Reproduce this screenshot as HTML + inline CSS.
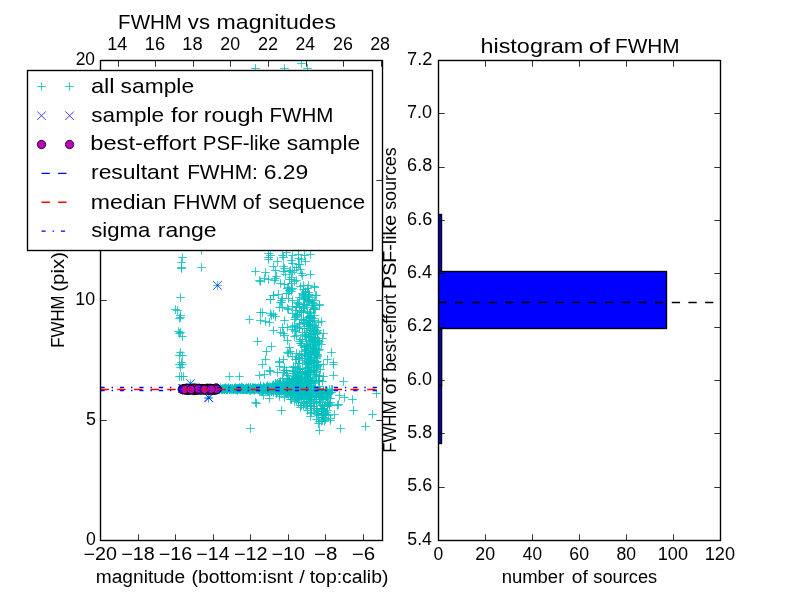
<!DOCTYPE html>
<html><head><meta charset="utf-8"><title>FWHM</title>
<style>html,body{margin:0;padding:0;background:#fff;overflow:hidden}svg{display:block;will-change:transform}text{font-family:"Liberation Sans",sans-serif}</style></head>
<body>
<svg width="800" height="600" viewBox="0 0 800 600">
<rect x="0" y="0" width="800" height="600" fill="#fff"/>
<defs><clipPath id="cl"><rect x="100.00" y="60.00" width="281.82" height="480.00"/></clipPath>
<clipPath id="cr"><rect x="438.18" y="60.00" width="281.82" height="480.00"/></clipPath></defs>
<g clip-path="url(#cl)">
<path d="M178.2 257.5h8.60M182.5 253.2v8.60M177.2 262.5h8.60M181.5 258.2v8.60M177.2 267.5h8.60M181.5 263.2v8.60M177.2 268.5h8.60M181.5 264.2v8.60M197.2 250.5h8.60M201.5 246.2v8.60M197.2 267.5h8.60M201.5 263.2v8.60M213.2 285.5h8.60M217.5 281.2v8.60M176.2 297.5h8.60M180.5 293.2v8.60M171.2 309.5h8.60M175.5 305.2v8.60M173.2 310.5h8.60M177.5 306.2v8.60M176.2 315.5h8.60M180.5 311.2v8.60M175.2 318.5h8.60M179.5 314.2v8.60M176.2 317.5h8.60M180.5 313.2v8.60M174.2 331.5h8.60M178.5 327.2v8.60M176.2 332.5h8.60M180.5 328.2v8.60M178.2 336.5h8.60M182.5 332.2v8.60M175.2 333.5h8.60M179.5 329.2v8.60M176.2 352.5h8.60M180.5 348.2v8.60M175.2 355.5h8.60M179.5 351.2v8.60M178.2 355.5h8.60M182.5 351.2v8.60M177.2 362.5h8.60M181.5 358.2v8.60M178.2 364.5h8.60M182.5 360.2v8.60M175.2 364.5h8.60M179.5 360.2v8.60M176.2 367.5h8.60M180.5 363.2v8.60M177.2 376.5h8.60M181.5 372.2v8.60M179.2 376.5h8.60M183.5 372.2v8.60M175.2 376.5h8.60M179.5 372.2v8.60M251.2 271.5h8.60M255.5 267.2v8.60M255.2 280.5h8.60M259.5 276.2v8.60M256.2 281.5h8.60M260.5 277.2v8.60M245.2 319.5h8.60M249.5 315.2v8.60M256.2 312.5h8.60M260.5 308.2v8.60M256.2 320.5h8.60M260.5 316.2v8.60M261.2 272.5h8.60M265.5 268.2v8.60M264.2 279.5h8.60M268.5 275.2v8.60M271.2 270.5h8.60M275.5 266.2v8.60M271.2 278.5h8.60M275.5 274.2v8.60M276.2 283.5h8.60M280.5 279.2v8.60M279.2 266.5h8.60M283.5 262.2v8.60M280.2 268.5h8.60M284.5 264.2v8.60M279.2 271.5h8.60M283.5 267.2v8.60M285.2 271.5h8.60M289.5 267.2v8.60M290.2 270.5h8.60M294.5 266.2v8.60M285.2 279.5h8.60M289.5 275.2v8.60M272.2 276.5h8.60M276.5 272.2v8.60M270.2 280.5h8.60M274.5 276.2v8.60M264.2 253.5h8.60M268.5 249.2v8.60M264.2 257.5h8.60M268.5 253.2v8.60M264.2 259.5h8.60M268.5 255.2v8.60M278.2 255.5h8.60M282.5 251.2v8.60M288.2 255.5h8.60M292.5 251.2v8.60M287.2 260.5h8.60M291.5 256.2v8.60M294.2 254.5h8.60M298.5 250.2v8.60M294.2 258.5h8.60M298.5 254.2v8.60M300.2 255.5h8.60M304.5 251.2v8.60M301.2 261.5h8.60M305.5 257.2v8.60M295.2 264.5h8.60M299.5 260.2v8.60M306.2 254.5h8.60M310.5 250.2v8.60M269.2 295.5h8.60M273.5 291.2v8.60M266.2 299.5h8.60M270.5 295.2v8.60M274.2 294.5h8.60M278.5 290.2v8.60M277.2 300.5h8.60M281.5 296.2v8.60M266.2 299.5h8.60M270.5 295.2v8.60M269.2 295.5h8.60M273.5 291.2v8.60M277.2 302.5h8.60M281.5 298.2v8.60M283.2 288.5h8.60M287.5 284.2v8.60M282.2 293.5h8.60M286.5 289.2v8.60M284.2 298.5h8.60M288.5 294.2v8.60M288.2 306.5h8.60M292.5 302.2v8.60M258.2 312.5h8.60M262.5 308.2v8.60M261.2 321.5h8.60M265.5 317.2v8.60M269.2 314.5h8.60M273.5 310.2v8.60M267.2 315.5h8.60M271.5 311.2v8.60M271.2 316.5h8.60M275.5 312.2v8.60M275.2 307.5h8.60M279.5 303.2v8.60M278.2 307.5h8.60M282.5 303.2v8.60M284.2 309.5h8.60M288.5 305.2v8.60M280.2 320.5h8.60M284.5 316.2v8.60M253.2 341.5h8.60M257.5 337.2v8.60M267.2 346.5h8.60M271.5 342.2v8.60M262.2 351.5h8.60M266.5 347.2v8.60M278.2 327.5h8.60M282.5 323.2v8.60M283.2 327.5h8.60M287.5 323.2v8.60M276.2 332.5h8.60M280.5 328.2v8.60M279.2 333.5h8.60M283.5 329.2v8.60M288.2 326.5h8.60M292.5 322.2v8.60M279.2 359.5h8.60M283.5 355.2v8.60M275.2 361.5h8.60M279.5 357.2v8.60M284.2 353.5h8.60M288.5 349.2v8.60M286.2 351.5h8.60M290.5 347.2v8.60M327.2 352.5h8.60M331.5 348.2v8.60M329.2 362.5h8.60M333.5 358.2v8.60M323.2 359.5h8.60M327.5 355.2v8.60M319.2 333.5h8.60M323.5 329.2v8.60M318.2 338.5h8.60M322.5 334.2v8.60M317.2 321.5h8.60M321.5 317.2v8.60M315.2 304.5h8.60M319.5 300.2v8.60M310.2 287.5h8.60M314.5 283.2v8.60M312.2 295.5h8.60M316.5 291.2v8.60M306.2 274.5h8.60M310.5 270.2v8.60M310.2 286.5h8.60M314.5 282.2v8.60M311.2 295.5h8.60M315.5 291.2v8.60M315.2 305.5h8.60M319.5 301.2v8.60M235.2 376.5h8.60M239.5 372.2v8.60M225.2 376.5h8.60M229.5 372.2v8.60M252.2 403.5h8.60M256.5 399.2v8.60M251.2 402.5h8.60M255.5 398.2v8.60M246.2 428.5h8.60M250.5 424.2v8.60M277.2 410.5h8.60M281.5 406.2v8.60M315.2 430.5h8.60M319.5 426.2v8.60M314.2 423.5h8.60M318.5 419.2v8.60M317.2 421.5h8.60M321.5 417.2v8.60M336.2 428.5h8.60M340.5 424.2v8.60M361.2 426.5h8.60M365.5 422.2v8.60M368.2 414.5h8.60M372.5 410.2v8.60M349.2 410.5h8.60M353.5 406.2v8.60M348.2 399.5h8.60M352.5 395.2v8.60M340.2 397.5h8.60M344.5 393.2v8.60M339.2 381.5h8.60M343.5 377.2v8.60M372.2 393.5h8.60M376.5 389.2v8.60M334.2 404.5h8.60M338.5 400.2v8.60M333.2 405.5h8.60M337.5 401.2v8.60M335.2 395.5h8.60M339.5 391.2v8.60M329.2 375.5h8.60M333.5 371.2v8.60M329.2 364.5h8.60M333.5 360.2v8.60M265.2 370.5h8.60M269.5 366.2v8.60M266.2 371.5h8.60M270.5 367.2v8.60M273.2 372.5h8.60M277.5 368.2v8.60M265.2 398.5h8.60M269.5 394.2v8.60M259.2 395.5h8.60M263.5 391.2v8.60M286.2 399.5h8.60M290.5 395.2v8.60M318.2 417.5h8.60M322.5 413.2v8.60M320.2 421.5h8.60M324.5 417.2v8.60M326.2 420.5h8.60M330.5 416.2v8.60M330.2 414.5h8.60M334.5 410.2v8.60M326.2 418.5h8.60M330.5 414.2v8.60M320.2 417.5h8.60M324.5 413.2v8.60M323.2 410.5h8.60M327.5 406.2v8.60M317.2 414.5h8.60M321.5 410.2v8.60M275.2 362.5h8.60M279.5 358.2v8.60M280.2 370.5h8.60M284.5 366.2v8.60M251.2 68.5h8.60M255.5 64.2v8.60M280.2 68.5h8.60M284.5 64.2v8.60M297.2 63.5h8.60M301.5 59.2v8.60M303.2 68.5h8.60M307.5 64.2v8.60M264.2 391.5h8.60M268.5 387.2v8.60M253.2 389.5h8.60M257.5 385.2v8.60M259.2 389.5h8.60M263.5 385.2v8.60M239.2 389.5h8.60M243.5 385.2v8.60M234.2 388.5h8.60M238.5 384.2v8.60M240.2 389.5h8.60M244.5 385.2v8.60M275.2 383.5h8.60M279.5 379.2v8.60M230.2 389.5h8.60M234.5 385.2v8.60M306.2 371.5h8.60M310.5 367.2v8.60M237.2 389.5h8.60M241.5 385.2v8.60M288.2 390.5h8.60M292.5 386.2v8.60M220.2 389.5h8.60M224.5 385.2v8.60M257.2 391.5h8.60M261.5 387.2v8.60M290.2 384.5h8.60M294.5 380.2v8.60M215.2 389.5h8.60M219.5 385.2v8.60M291.2 382.5h8.60M295.5 378.2v8.60M241.2 389.5h8.60M245.5 385.2v8.60M300.2 394.5h8.60M304.5 390.2v8.60M277.2 388.5h8.60M281.5 384.2v8.60M272.2 386.5h8.60M276.5 382.2v8.60M287.2 393.5h8.60M291.5 389.2v8.60M246.2 387.5h8.60M250.5 383.2v8.60M299.2 392.5h8.60M303.5 388.2v8.60M275.2 393.5h8.60M279.5 389.2v8.60M241.2 388.5h8.60M245.5 384.2v8.60M305.2 378.5h8.60M309.5 374.2v8.60M223.2 389.5h8.60M227.5 385.2v8.60M296.2 407.5h8.60M300.5 403.2v8.60M238.2 389.5h8.60M242.5 385.2v8.60M238.2 389.5h8.60M242.5 385.2v8.60M255.2 390.5h8.60M259.5 386.2v8.60M229.2 389.5h8.60M233.5 385.2v8.60M307.2 408.5h8.60M311.5 404.2v8.60M292.2 381.5h8.60M296.5 377.2v8.60M259.2 387.5h8.60M263.5 383.2v8.60M269.2 384.5h8.60M273.5 380.2v8.60M226.2 388.5h8.60M230.5 384.2v8.60M279.2 385.5h8.60M283.5 381.2v8.60M264.2 389.5h8.60M268.5 385.2v8.60M291.2 387.5h8.60M295.5 383.2v8.60M286.2 386.5h8.60M290.5 382.2v8.60M239.2 388.5h8.60M243.5 384.2v8.60M305.2 389.5h8.60M309.5 385.2v8.60M252.2 389.5h8.60M256.5 385.2v8.60M274.2 388.5h8.60M278.5 384.2v8.60M215.2 389.5h8.60M219.5 385.2v8.60M270.2 390.5h8.60M274.5 386.2v8.60M293.2 397.5h8.60M297.5 393.2v8.60M231.2 388.5h8.60M235.5 384.2v8.60M293.2 388.5h8.60M297.5 384.2v8.60M304.2 378.5h8.60M308.5 374.2v8.60M299.2 392.5h8.60M303.5 388.2v8.60M221.2 388.5h8.60M225.5 384.2v8.60M241.2 389.5h8.60M245.5 385.2v8.60M285.2 384.5h8.60M289.5 380.2v8.60M263.2 388.5h8.60M267.5 384.2v8.60M286.2 387.5h8.60M290.5 383.2v8.60M267.2 389.5h8.60M271.5 385.2v8.60M242.2 388.5h8.60M246.5 384.2v8.60M236.2 388.5h8.60M240.5 384.2v8.60M300.2 383.5h8.60M304.5 379.2v8.60M274.2 390.5h8.60M278.5 386.2v8.60M286.2 383.5h8.60M290.5 379.2v8.60M249.2 387.5h8.60M253.5 383.2v8.60M264.2 387.5h8.60M268.5 383.2v8.60M277.2 391.5h8.60M281.5 387.2v8.60M281.2 392.5h8.60M285.5 388.2v8.60M287.2 391.5h8.60M291.5 387.2v8.60M222.2 389.5h8.60M226.5 385.2v8.60M262.2 386.5h8.60M266.5 382.2v8.60M266.2 388.5h8.60M270.5 384.2v8.60M269.2 392.5h8.60M273.5 388.2v8.60M250.2 389.5h8.60M254.5 385.2v8.60M302.2 390.5h8.60M306.5 386.2v8.60M284.2 378.5h8.60M288.5 374.2v8.60M221.2 387.5h8.60M225.5 383.2v8.60M279.2 390.5h8.60M283.5 386.2v8.60M241.2 389.5h8.60M245.5 385.2v8.60M258.2 390.5h8.60M262.5 386.2v8.60M297.2 378.5h8.60M301.5 374.2v8.60M228.2 388.5h8.60M232.5 384.2v8.60M223.2 389.5h8.60M227.5 385.2v8.60M242.2 389.5h8.60M246.5 385.2v8.60M246.2 389.5h8.60M250.5 385.2v8.60M264.2 389.5h8.60M268.5 385.2v8.60M272.2 389.5h8.60M276.5 385.2v8.60M293.2 384.5h8.60M297.5 380.2v8.60M223.2 389.5h8.60M227.5 385.2v8.60M231.2 389.5h8.60M235.5 385.2v8.60M276.2 390.5h8.60M280.5 386.2v8.60M258.2 389.5h8.60M262.5 385.2v8.60M298.2 387.5h8.60M302.5 383.2v8.60M230.2 388.5h8.60M234.5 384.2v8.60M283.2 387.5h8.60M287.5 383.2v8.60M263.2 385.5h8.60M267.5 381.2v8.60M238.2 388.5h8.60M242.5 384.2v8.60M273.2 383.5h8.60M277.5 379.2v8.60M239.2 388.5h8.60M243.5 384.2v8.60M263.2 391.5h8.60M267.5 387.2v8.60M298.2 390.5h8.60M302.5 386.2v8.60M258.2 389.5h8.60M262.5 385.2v8.60M219.2 388.5h8.60M223.5 384.2v8.60M268.2 390.5h8.60M272.5 386.2v8.60M294.2 390.5h8.60M298.5 386.2v8.60M235.2 388.5h8.60M239.5 384.2v8.60M233.2 388.5h8.60M237.5 384.2v8.60M304.2 394.5h8.60M308.5 390.2v8.60M303.2 392.5h8.60M307.5 388.2v8.60M254.2 389.5h8.60M258.5 385.2v8.60M271.2 389.5h8.60M275.5 385.2v8.60M226.2 389.5h8.60M230.5 385.2v8.60M290.2 392.5h8.60M294.5 388.2v8.60M239.2 388.5h8.60M243.5 384.2v8.60M307.2 382.5h8.60M311.5 378.2v8.60M307.2 412.5h8.60M311.5 408.2v8.60M275.2 385.5h8.60M279.5 381.2v8.60M303.2 383.5h8.60M307.5 379.2v8.60M289.2 385.5h8.60M293.5 381.2v8.60M297.2 394.5h8.60M301.5 390.2v8.60M292.2 389.5h8.60M296.5 385.2v8.60M291.2 384.5h8.60M295.5 380.2v8.60M250.2 388.5h8.60M254.5 384.2v8.60M247.2 389.5h8.60M251.5 385.2v8.60M259.2 388.5h8.60M263.5 384.2v8.60M285.2 384.5h8.60M289.5 380.2v8.60M282.2 382.5h8.60M286.5 378.2v8.60M298.2 392.5h8.60M302.5 388.2v8.60M221.2 388.5h8.60M225.5 384.2v8.60M302.2 397.5h8.60M306.5 393.2v8.60M262.2 388.5h8.60M266.5 384.2v8.60M285.2 386.5h8.60M289.5 382.2v8.60M248.2 389.5h8.60M252.5 385.2v8.60M253.2 388.5h8.60M257.5 384.2v8.60M288.2 387.5h8.60M292.5 383.2v8.60M305.2 372.5h8.60M309.5 368.2v8.60M281.2 392.5h8.60M285.5 388.2v8.60M293.2 380.5h8.60M297.5 376.2v8.60M288.2 382.5h8.60M292.5 378.2v8.60M220.2 389.5h8.60M224.5 385.2v8.60M286.2 383.5h8.60M290.5 379.2v8.60M243.2 388.5h8.60M247.5 384.2v8.60M262.2 388.5h8.60M266.5 384.2v8.60M245.2 388.5h8.60M249.5 384.2v8.60M230.2 388.5h8.60M234.5 384.2v8.60M293.2 388.5h8.60M297.5 384.2v8.60M218.2 389.5h8.60M222.5 385.2v8.60M276.2 390.5h8.60M280.5 386.2v8.60M256.2 386.5h8.60M260.5 382.2v8.60M235.2 388.5h8.60M239.5 384.2v8.60M252.2 388.5h8.60M256.5 384.2v8.60M244.2 388.5h8.60M248.5 384.2v8.60M262.2 390.5h8.60M266.5 386.2v8.60M282.2 387.5h8.60M286.5 383.2v8.60M276.2 381.5h8.60M280.5 377.2v8.60M307.2 367.5h8.60M311.5 363.2v8.60M283.2 388.5h8.60M287.5 384.2v8.60M306.2 377.5h8.60M310.5 373.2v8.60M238.2 387.5h8.60M242.5 383.2v8.60M264.2 388.5h8.60M268.5 384.2v8.60M296.2 372.5h8.60M300.5 368.2v8.60M250.2 388.5h8.60M254.5 384.2v8.60M261.2 390.5h8.60M265.5 386.2v8.60M230.2 388.5h8.60M234.5 384.2v8.60M289.2 394.5h8.60M293.5 390.2v8.60M246.2 387.5h8.60M250.5 383.2v8.60M238.2 388.5h8.60M242.5 384.2v8.60M218.2 389.5h8.60M222.5 385.2v8.60M302.2 401.5h8.60M306.5 397.2v8.60M261.2 388.5h8.60M265.5 384.2v8.60M255.2 390.5h8.60M259.5 386.2v8.60M223.2 389.5h8.60M227.5 385.2v8.60M267.2 391.5h8.60M271.5 387.2v8.60M257.2 388.5h8.60M261.5 384.2v8.60M291.2 391.5h8.60M295.5 387.2v8.60M260.2 388.5h8.60M264.5 384.2v8.60M301.2 372.5h8.60M305.5 368.2v8.60M293.2 394.5h8.60M297.5 390.2v8.60M217.2 389.5h8.60M221.5 385.2v8.60M290.2 390.5h8.60M294.5 386.2v8.60M246.2 390.5h8.60M250.5 386.2v8.60M271.2 383.5h8.60M275.5 379.2v8.60M278.2 389.5h8.60M282.5 385.2v8.60M299.2 386.5h8.60M303.5 382.2v8.60M241.2 389.5h8.60M245.5 385.2v8.60M224.2 388.5h8.60M228.5 384.2v8.60M290.2 376.5h8.60M294.5 372.2v8.60M292.2 390.5h8.60M296.5 386.2v8.60M283.2 390.5h8.60M287.5 386.2v8.60M214.2 388.5h8.60M218.5 384.2v8.60M283.2 393.5h8.60M287.5 389.2v8.60M280.2 397.5h8.60M284.5 393.2v8.60M254.2 387.5h8.60M258.5 383.2v8.60M254.2 389.5h8.60M258.5 385.2v8.60M265.2 389.5h8.60M269.5 385.2v8.60M282.2 389.5h8.60M286.5 385.2v8.60M285.2 391.5h8.60M289.5 387.2v8.60M284.2 385.5h8.60M288.5 381.2v8.60M243.2 389.5h8.60M247.5 385.2v8.60M250.2 390.5h8.60M254.5 386.2v8.60M224.2 387.5h8.60M228.5 383.2v8.60M303.2 405.5h8.60M307.5 401.2v8.60M246.2 388.5h8.60M250.5 384.2v8.60M305.2 391.5h8.60M309.5 387.2v8.60M222.2 388.5h8.60M226.5 384.2v8.60M260.2 388.5h8.60M264.5 384.2v8.60M304.2 387.5h8.60M308.5 383.2v8.60M284.2 381.5h8.60M288.5 377.2v8.60M232.2 388.5h8.60M236.5 384.2v8.60M290.2 388.5h8.60M294.5 384.2v8.60M294.2 386.5h8.60M298.5 382.2v8.60M258.2 389.5h8.60M262.5 385.2v8.60M244.2 388.5h8.60M248.5 384.2v8.60M243.2 388.5h8.60M247.5 384.2v8.60M239.2 389.5h8.60M243.5 385.2v8.60M268.2 385.5h8.60M272.5 381.2v8.60M235.2 388.5h8.60M239.5 384.2v8.60M220.2 389.5h8.60M224.5 385.2v8.60M236.2 389.5h8.60M240.5 385.2v8.60M285.2 380.5h8.60M289.5 376.2v8.60M303.2 382.5h8.60M307.5 378.2v8.60M249.2 388.5h8.60M253.5 384.2v8.60M259.2 387.5h8.60M263.5 383.2v8.60M262.2 389.5h8.60M266.5 385.2v8.60M302.2 393.5h8.60M306.5 389.2v8.60M282.2 392.5h8.60M286.5 388.2v8.60M241.2 389.5h8.60M245.5 385.2v8.60M283.2 379.5h8.60M287.5 375.2v8.60M263.2 387.5h8.60M267.5 383.2v8.60M304.2 385.5h8.60M308.5 381.2v8.60M234.2 388.5h8.60M238.5 384.2v8.60M249.2 389.5h8.60M253.5 385.2v8.60M294.2 395.5h8.60M298.5 391.2v8.60M289.2 383.5h8.60M293.5 379.2v8.60M251.2 388.5h8.60M255.5 384.2v8.60M294.2 382.5h8.60M298.5 378.2v8.60M275.2 383.5h8.60M279.5 379.2v8.60M293.2 382.5h8.60M297.5 378.2v8.60M260.2 388.5h8.60M264.5 384.2v8.60M254.2 388.5h8.60M258.5 384.2v8.60M287.2 399.5h8.60M291.5 395.2v8.60M280.2 383.5h8.60M284.5 379.2v8.60M232.2 389.5h8.60M236.5 385.2v8.60M268.2 386.5h8.60M272.5 382.2v8.60M271.2 387.5h8.60M275.5 383.2v8.60M307.2 393.5h8.60M311.5 389.2v8.60M304.2 385.5h8.60M308.5 381.2v8.60M293.2 393.5h8.60M297.5 389.2v8.60M244.2 387.5h8.60M248.5 383.2v8.60M235.2 388.5h8.60M239.5 384.2v8.60M232.2 388.5h8.60M236.5 384.2v8.60M218.2 389.5h8.60M222.5 385.2v8.60M249.2 388.5h8.60M253.5 384.2v8.60M296.2 382.5h8.60M300.5 378.2v8.60M218.2 389.5h8.60M222.5 385.2v8.60M279.2 389.5h8.60M283.5 385.2v8.60M220.2 389.5h8.60M224.5 385.2v8.60M282.2 392.5h8.60M286.5 388.2v8.60M227.2 389.5h8.60M231.5 385.2v8.60M261.2 389.5h8.60M265.5 385.2v8.60M268.2 390.5h8.60M272.5 386.2v8.60M283.2 384.5h8.60M287.5 380.2v8.60M297.2 378.5h8.60M301.5 374.2v8.60M263.2 390.5h8.60M267.5 386.2v8.60M258.2 390.5h8.60M262.5 386.2v8.60M303.2 387.5h8.60M307.5 383.2v8.60M257.2 389.5h8.60M261.5 385.2v8.60M305.2 359.5h8.60M309.5 355.2v8.60M259.2 389.5h8.60M263.5 385.2v8.60M279.2 391.5h8.60M283.5 387.2v8.60M232.2 389.5h8.60M236.5 385.2v8.60M262.2 387.5h8.60M266.5 383.2v8.60M282.2 393.5h8.60M286.5 389.2v8.60M247.2 389.5h8.60M251.5 385.2v8.60M234.2 389.5h8.60M238.5 385.2v8.60M260.2 389.5h8.60M264.5 385.2v8.60M263.2 388.5h8.60M267.5 384.2v8.60M218.2 388.5h8.60M222.5 384.2v8.60M256.2 388.5h8.60M260.5 384.2v8.60M261.2 388.5h8.60M265.5 384.2v8.60M241.2 389.5h8.60M245.5 385.2v8.60M287.2 399.5h8.60M291.5 395.2v8.60M259.2 387.5h8.60M263.5 383.2v8.60M217.2 389.5h8.60M221.5 385.2v8.60M274.2 384.5h8.60M278.5 380.2v8.60M283.2 390.5h8.60M287.5 386.2v8.60M265.2 386.5h8.60M269.5 382.2v8.60M235.2 389.5h8.60M239.5 385.2v8.60M238.2 389.5h8.60M242.5 385.2v8.60M303.2 385.5h8.60M307.5 381.2v8.60M255.2 388.5h8.60M259.5 384.2v8.60M263.2 389.5h8.60M267.5 385.2v8.60M274.2 385.5h8.60M278.5 381.2v8.60M250.2 388.5h8.60M254.5 384.2v8.60M292.2 391.5h8.60M296.5 387.2v8.60M270.2 388.5h8.60M274.5 384.2v8.60M230.2 388.5h8.60M234.5 384.2v8.60M250.2 388.5h8.60M254.5 384.2v8.60M257.2 390.5h8.60M261.5 386.2v8.60M305.2 394.5h8.60M309.5 390.2v8.60M273.2 383.5h8.60M277.5 379.2v8.60M286.2 387.5h8.60M290.5 383.2v8.60M298.2 392.5h8.60M302.5 388.2v8.60M267.2 391.5h8.60M271.5 387.2v8.60M277.2 387.5h8.60M281.5 383.2v8.60M264.2 388.5h8.60M268.5 384.2v8.60M258.2 388.5h8.60M262.5 384.2v8.60M255.2 389.5h8.60M259.5 385.2v8.60M231.2 387.5h8.60M235.5 383.2v8.60M220.2 388.5h8.60M224.5 384.2v8.60M265.2 390.5h8.60M269.5 386.2v8.60M291.2 397.5h8.60M295.5 393.2v8.60M284.2 387.5h8.60M288.5 383.2v8.60M237.2 388.5h8.60M241.5 384.2v8.60M242.2 388.5h8.60M246.5 384.2v8.60M220.2 388.5h8.60M224.5 384.2v8.60M282.2 373.5h8.60M286.5 369.2v8.60M243.2 389.5h8.60M247.5 385.2v8.60M257.2 388.5h8.60M261.5 384.2v8.60M295.2 393.5h8.60M299.5 389.2v8.60M300.2 360.5h8.60M304.5 356.2v8.60M215.2 389.5h8.60M219.5 385.2v8.60M246.2 389.5h8.60M250.5 385.2v8.60M297.2 387.5h8.60M301.5 383.2v8.60M304.2 363.5h8.60M308.5 359.2v8.60M287.2 394.5h8.60M291.5 390.2v8.60M236.2 388.5h8.60M240.5 384.2v8.60M272.2 392.5h8.60M276.5 388.2v8.60M255.2 388.5h8.60M259.5 384.2v8.60M231.2 389.5h8.60M235.5 385.2v8.60M287.2 390.5h8.60M291.5 386.2v8.60M256.2 385.5h8.60M260.5 381.2v8.60M256.2 390.5h8.60M260.5 386.2v8.60M283.2 385.5h8.60M287.5 381.2v8.60M264.2 390.5h8.60M268.5 386.2v8.60M266.2 390.5h8.60M270.5 386.2v8.60M275.2 391.5h8.60M279.5 387.2v8.60M233.2 390.5h8.60M237.5 386.2v8.60M251.2 388.5h8.60M255.5 384.2v8.60M257.2 389.5h8.60M261.5 385.2v8.60M276.2 384.5h8.60M280.5 380.2v8.60M291.2 389.5h8.60M295.5 385.2v8.60M270.2 386.5h8.60M274.5 382.2v8.60M294.2 399.5h8.60M298.5 395.2v8.60M294.2 375.5h8.60M298.5 371.2v8.60M283.2 392.5h8.60M287.5 388.2v8.60M287.2 389.5h8.60M291.5 385.2v8.60M247.2 389.5h8.60M251.5 385.2v8.60M291.2 392.5h8.60M295.5 388.2v8.60M307.2 386.5h8.60M311.5 382.2v8.60M221.2 388.5h8.60M225.5 384.2v8.60M285.2 393.5h8.60M289.5 389.2v8.60M276.2 386.5h8.60M280.5 382.2v8.60M230.2 388.5h8.60M234.5 384.2v8.60M294.2 397.5h8.60M298.5 393.2v8.60M255.2 389.5h8.60M259.5 385.2v8.60M275.2 384.5h8.60M279.5 380.2v8.60M243.2 388.5h8.60M247.5 384.2v8.60M264.2 387.5h8.60M268.5 383.2v8.60M300.2 403.5h8.60M304.5 399.2v8.60M242.2 387.5h8.60M246.5 383.2v8.60M301.2 380.5h8.60M305.5 376.2v8.60M300.2 390.5h8.60M304.5 386.2v8.60M304.2 399.5h8.60M308.5 395.2v8.60M246.2 388.5h8.60M250.5 384.2v8.60M302.2 381.5h8.60M306.5 377.2v8.60M288.2 371.5h8.60M292.5 367.2v8.60M306.2 385.5h8.60M310.5 381.2v8.60M302.2 362.5h8.60M306.5 358.2v8.60M265.2 390.5h8.60M269.5 386.2v8.60M305.2 380.5h8.60M309.5 376.2v8.60M274.2 388.5h8.60M278.5 384.2v8.60M257.2 388.5h8.60M261.5 384.2v8.60M251.2 389.5h8.60M255.5 385.2v8.60M249.2 389.5h8.60M253.5 385.2v8.60M233.2 388.5h8.60M237.5 384.2v8.60M245.2 390.5h8.60M249.5 386.2v8.60M286.2 389.5h8.60M290.5 385.2v8.60M287.2 388.5h8.60M291.5 384.2v8.60M236.2 389.5h8.60M240.5 385.2v8.60M302.2 396.5h8.60M306.5 392.2v8.60M299.2 402.5h8.60M303.5 398.2v8.60M229.2 389.5h8.60M233.5 385.2v8.60M258.2 391.5h8.60M262.5 387.2v8.60M233.2 389.5h8.60M237.5 385.2v8.60M276.2 383.5h8.60M280.5 379.2v8.60M298.2 395.5h8.60M302.5 391.2v8.60M275.2 394.5h8.60M279.5 390.2v8.60M239.2 388.5h8.60M243.5 384.2v8.60M225.2 389.5h8.60M229.5 385.2v8.60M286.2 394.5h8.60M290.5 390.2v8.60M297.2 387.5h8.60M301.5 383.2v8.60M279.2 382.5h8.60M283.5 378.2v8.60M283.2 382.5h8.60M287.5 378.2v8.60M296.2 395.5h8.60M300.5 391.2v8.60M298.2 385.5h8.60M302.5 381.2v8.60M228.2 388.5h8.60M232.5 384.2v8.60M256.2 387.5h8.60M260.5 383.2v8.60M243.2 389.5h8.60M247.5 385.2v8.60M260.2 389.5h8.60M264.5 385.2v8.60M303.2 378.5h8.60M307.5 374.2v8.60M216.2 388.5h8.60M220.5 384.2v8.60M290.2 393.5h8.60M294.5 389.2v8.60M217.2 389.5h8.60M221.5 385.2v8.60M276.2 389.5h8.60M280.5 385.2v8.60M231.2 388.5h8.60M235.5 384.2v8.60M232.2 389.5h8.60M236.5 385.2v8.60M260.2 387.5h8.60M264.5 383.2v8.60M257.2 389.5h8.60M261.5 385.2v8.60M227.2 388.5h8.60M231.5 384.2v8.60M215.2 389.5h8.60M219.5 385.2v8.60M272.2 393.5h8.60M276.5 389.2v8.60M243.2 389.5h8.60M247.5 385.2v8.60M273.2 391.5h8.60M277.5 387.2v8.60M293.2 393.5h8.60M297.5 389.2v8.60M302.2 394.5h8.60M306.5 390.2v8.60M216.2 387.5h8.60M220.5 383.2v8.60M294.2 402.5h8.60M298.5 398.2v8.60M307.2 396.5h8.60M311.5 392.2v8.60M288.2 379.5h8.60M292.5 375.2v8.60M230.2 388.5h8.60M234.5 384.2v8.60M298.2 394.5h8.60M302.5 390.2v8.60M250.2 389.5h8.60M254.5 385.2v8.60M285.2 383.5h8.60M289.5 379.2v8.60M271.2 390.5h8.60M275.5 386.2v8.60M290.2 395.5h8.60M294.5 391.2v8.60M251.2 387.5h8.60M255.5 383.2v8.60M225.2 389.5h8.60M229.5 385.2v8.60M290.2 390.5h8.60M294.5 386.2v8.60M229.2 389.5h8.60M233.5 385.2v8.60M285.2 388.5h8.60M289.5 384.2v8.60M248.2 388.5h8.60M252.5 384.2v8.60M283.2 381.5h8.60M287.5 377.2v8.60M228.2 389.5h8.60M232.5 385.2v8.60M301.2 390.5h8.60M305.5 386.2v8.60M268.2 388.5h8.60M272.5 384.2v8.60M295.2 397.5h8.60M299.5 393.2v8.60M244.2 389.5h8.60M248.5 385.2v8.60M264.2 391.5h8.60M268.5 387.2v8.60M266.2 388.5h8.60M270.5 384.2v8.60M298.2 394.5h8.60M302.5 390.2v8.60M294.2 388.5h8.60M298.5 384.2v8.60M302.2 405.5h8.60M306.5 401.2v8.60M264.2 389.5h8.60M268.5 385.2v8.60M296.2 388.5h8.60M300.5 384.2v8.60M297.2 388.5h8.60M301.5 384.2v8.60M250.2 389.5h8.60M254.5 385.2v8.60M236.2 389.5h8.60M240.5 385.2v8.60M293.2 375.5h8.60M297.5 371.2v8.60M282.2 388.5h8.60M286.5 384.2v8.60M249.2 389.5h8.60M253.5 385.2v8.60M293.2 397.5h8.60M297.5 393.2v8.60M255.2 389.5h8.60M259.5 385.2v8.60M252.2 388.5h8.60M256.5 384.2v8.60M240.2 389.5h8.60M244.5 385.2v8.60M239.2 389.5h8.60M243.5 385.2v8.60M259.2 386.5h8.60M263.5 382.2v8.60M248.2 387.5h8.60M252.5 383.2v8.60M293.2 377.5h8.60M297.5 373.2v8.60M266.2 387.5h8.60M270.5 383.2v8.60M287.2 383.5h8.60M291.5 379.2v8.60M272.2 392.5h8.60M276.5 388.2v8.60M299.2 391.5h8.60M303.5 387.2v8.60M269.2 389.5h8.60M273.5 385.2v8.60M242.2 389.5h8.60M246.5 385.2v8.60M296.2 388.5h8.60M300.5 384.2v8.60M253.2 388.5h8.60M257.5 384.2v8.60M235.2 387.5h8.60M239.5 383.2v8.60M290.2 394.5h8.60M294.5 390.2v8.60M303.2 410.5h8.60M307.5 406.2v8.60M302.2 399.5h8.60M306.5 395.2v8.60M294.2 398.5h8.60M298.5 394.2v8.60M306.2 406.5h8.60M310.5 402.2v8.60M289.2 381.5h8.60M293.5 377.2v8.60M299.2 387.5h8.60M303.5 383.2v8.60M278.2 388.5h8.60M282.5 384.2v8.60M219.2 389.5h8.60M223.5 385.2v8.60M286.2 387.5h8.60M290.5 383.2v8.60M254.2 389.5h8.60M258.5 385.2v8.60M267.2 390.5h8.60M271.5 386.2v8.60M235.2 388.5h8.60M239.5 384.2v8.60M296.2 382.5h8.60M300.5 378.2v8.60M301.2 373.5h8.60M305.5 369.2v8.60M263.2 388.5h8.60M267.5 384.2v8.60M286.2 390.5h8.60M290.5 386.2v8.60M280.2 389.5h8.60M284.5 385.2v8.60M263.2 388.5h8.60M267.5 384.2v8.60M265.2 388.5h8.60M269.5 384.2v8.60M295.2 390.5h8.60M299.5 386.2v8.60M223.2 388.5h8.60M227.5 384.2v8.60M264.2 387.5h8.60M268.5 383.2v8.60M296.2 391.5h8.60M300.5 387.2v8.60M250.2 389.5h8.60M254.5 385.2v8.60M279.2 382.5h8.60M283.5 378.2v8.60M231.2 388.5h8.60M235.5 384.2v8.60M281.2 387.5h8.60M285.5 383.2v8.60M305.2 383.5h8.60M309.5 379.2v8.60M297.2 392.5h8.60M301.5 388.2v8.60M271.2 383.5h8.60M275.5 379.2v8.60M302.2 398.5h8.60M306.5 394.2v8.60M306.2 405.5h8.60M310.5 401.2v8.60M226.2 388.5h8.60M230.5 384.2v8.60M237.2 387.5h8.60M241.5 383.2v8.60M275.2 390.5h8.60M279.5 386.2v8.60M244.2 388.5h8.60M248.5 384.2v8.60M288.2 392.5h8.60M292.5 388.2v8.60M283.2 375.5h8.60M287.5 371.2v8.60M225.2 389.5h8.60M229.5 385.2v8.60M276.2 386.5h8.60M280.5 382.2v8.60M288.2 395.5h8.60M292.5 391.2v8.60M237.2 388.5h8.60M241.5 384.2v8.60M272.2 384.5h8.60M276.5 380.2v8.60M242.2 388.5h8.60M246.5 384.2v8.60M275.2 396.5h8.60M279.5 392.2v8.60M220.2 389.5h8.60M224.5 385.2v8.60M274.2 389.5h8.60M278.5 385.2v8.60M262.2 389.5h8.60M266.5 385.2v8.60M248.2 388.5h8.60M252.5 384.2v8.60M271.2 390.5h8.60M275.5 386.2v8.60M305.2 390.5h8.60M309.5 386.2v8.60M223.2 389.5h8.60M227.5 385.2v8.60M302.2 392.5h8.60M306.5 388.2v8.60M237.2 387.5h8.60M241.5 383.2v8.60M266.2 387.5h8.60M270.5 383.2v8.60M289.2 380.5h8.60M293.5 376.2v8.60M242.2 389.5h8.60M246.5 385.2v8.60M279.2 385.5h8.60M283.5 381.2v8.60M277.2 388.5h8.60M281.5 384.2v8.60M239.2 389.5h8.60M243.5 385.2v8.60M269.2 391.5h8.60M273.5 387.2v8.60M242.2 389.5h8.60M246.5 385.2v8.60M285.2 381.5h8.60M289.5 377.2v8.60M249.2 389.5h8.60M253.5 385.2v8.60M234.2 388.5h8.60M238.5 384.2v8.60M244.2 387.5h8.60M248.5 383.2v8.60M222.2 389.5h8.60M226.5 385.2v8.60M291.2 378.5h8.60M295.5 374.2v8.60M293.2 368.5h8.60M297.5 364.2v8.60M294.2 397.5h8.60M298.5 393.2v8.60M290.2 401.5h8.60M294.5 397.2v8.60M276.2 385.5h8.60M280.5 381.2v8.60M282.2 252.5h8.60M286.5 248.2v8.60M266.2 255.5h8.60M270.5 251.2v8.60M279.2 257.5h8.60M283.5 253.2v8.60M297.2 259.5h8.60M301.5 255.2v8.60M273.2 261.5h8.60M277.5 257.2v8.60M288.2 263.5h8.60M292.5 259.2v8.60M294.2 264.5h8.60M298.5 260.2v8.60M269.2 266.5h8.60M273.5 262.2v8.60M292.2 267.5h8.60M296.5 263.2v8.60M296.2 269.5h8.60M300.5 265.2v8.60M286.2 270.5h8.60M290.5 266.2v8.60M288.2 272.5h8.60M292.5 268.2v8.60M297.2 273.5h8.60M301.5 269.2v8.60M281.2 274.5h8.60M285.5 270.2v8.60M298.2 275.5h8.60M302.5 271.2v8.60M287.2 277.5h8.60M291.5 273.2v8.60M260.2 278.5h8.60M264.5 274.2v8.60M287.2 279.5h8.60M291.5 275.2v8.60M292.2 280.5h8.60M296.5 276.2v8.60M290.2 281.5h8.60M294.5 277.2v8.60M287.2 283.5h8.60M291.5 279.2v8.60M280.2 284.5h8.60M284.5 280.2v8.60M304.2 285.5h8.60M308.5 281.2v8.60M299.2 285.5h8.60M303.5 281.2v8.60M296.2 286.5h8.60M300.5 282.2v8.60M284.2 287.5h8.60M288.5 283.2v8.60M288.2 288.5h8.60M292.5 284.2v8.60M303.2 288.5h8.60M307.5 284.2v8.60M299.2 289.5h8.60M303.5 285.2v8.60M287.2 289.5h8.60M291.5 285.2v8.60M285.2 290.5h8.60M289.5 286.2v8.60M301.2 291.5h8.60M305.5 287.2v8.60M287.2 291.5h8.60M291.5 287.2v8.60M304.2 292.5h8.60M308.5 288.2v8.60M301.2 292.5h8.60M305.5 288.2v8.60M284.2 293.5h8.60M288.5 289.2v8.60M298.2 293.5h8.60M302.5 289.2v8.60M305.2 294.5h8.60M309.5 290.2v8.60M299.2 294.5h8.60M303.5 290.2v8.60M304.2 295.5h8.60M308.5 291.2v8.60M299.2 295.5h8.60M303.5 291.2v8.60M304.2 296.5h8.60M308.5 292.2v8.60M300.2 296.5h8.60M304.5 292.2v8.60M305.2 297.5h8.60M309.5 293.2v8.60M295.2 297.5h8.60M299.5 293.2v8.60M300.2 298.5h8.60M304.5 294.2v8.60M301.2 298.5h8.60M305.5 294.2v8.60M278.2 298.5h8.60M282.5 294.2v8.60M304.2 299.5h8.60M308.5 295.2v8.60M299.2 299.5h8.60M303.5 295.2v8.60M304.2 300.5h8.60M308.5 296.2v8.60M288.2 300.5h8.60M292.5 296.2v8.60M310.2 300.5h8.60M314.5 296.2v8.60M305.2 301.5h8.60M309.5 297.2v8.60M303.2 301.5h8.60M307.5 297.2v8.60M293.2 302.5h8.60M297.5 298.2v8.60M276.2 302.5h8.60M280.5 298.2v8.60M308.2 302.5h8.60M312.5 298.2v8.60M309.2 303.5h8.60M313.5 299.2v8.60M294.2 303.5h8.60M298.5 299.2v8.60M300.2 304.5h8.60M304.5 300.2v8.60M300.2 304.5h8.60M304.5 300.2v8.60M295.2 304.5h8.60M299.5 300.2v8.60M308.2 305.5h8.60M312.5 301.2v8.60M302.2 305.5h8.60M306.5 301.2v8.60M307.2 305.5h8.60M311.5 301.2v8.60M299.2 306.5h8.60M303.5 302.2v8.60M292.2 306.5h8.60M296.5 302.2v8.60M292.2 307.5h8.60M296.5 303.2v8.60M309.2 307.5h8.60M313.5 303.2v8.60M300.2 307.5h8.60M304.5 303.2v8.60M283.2 308.5h8.60M287.5 304.2v8.60M299.2 308.5h8.60M303.5 304.2v8.60M310.2 308.5h8.60M314.5 304.2v8.60M309.2 309.5h8.60M313.5 305.2v8.60M309.2 309.5h8.60M313.5 305.2v8.60M311.2 309.5h8.60M315.5 305.2v8.60M297.2 310.5h8.60M301.5 306.2v8.60M295.2 310.5h8.60M299.5 306.2v8.60M291.2 310.5h8.60M295.5 306.2v8.60M297.2 311.5h8.60M301.5 307.2v8.60M303.2 311.5h8.60M307.5 307.2v8.60M299.2 312.5h8.60M303.5 308.2v8.60M297.2 312.5h8.60M301.5 308.2v8.60M306.2 312.5h8.60M310.5 308.2v8.60M266.2 313.5h8.60M270.5 309.2v8.60M305.2 313.5h8.60M309.5 309.2v8.60M288.2 313.5h8.60M292.5 309.2v8.60M293.2 314.5h8.60M297.5 310.2v8.60M293.2 314.5h8.60M297.5 310.2v8.60M293.2 314.5h8.60M297.5 310.2v8.60M293.2 315.5h8.60M297.5 311.2v8.60M310.2 315.5h8.60M314.5 311.2v8.60M306.2 315.5h8.60M310.5 311.2v8.60M305.2 316.5h8.60M309.5 312.2v8.60M292.2 316.5h8.60M296.5 312.2v8.60M306.2 316.5h8.60M310.5 312.2v8.60M291.2 317.5h8.60M295.5 313.2v8.60M305.2 317.5h8.60M309.5 313.2v8.60M304.2 317.5h8.60M308.5 313.2v8.60M307.2 317.5h8.60M311.5 313.2v8.60M305.2 318.5h8.60M309.5 314.2v8.60M306.2 318.5h8.60M310.5 314.2v8.60M309.2 318.5h8.60M313.5 314.2v8.60M297.2 319.5h8.60M301.5 315.2v8.60M299.2 319.5h8.60M303.5 315.2v8.60M290.2 319.5h8.60M294.5 315.2v8.60M302.2 320.5h8.60M306.5 316.2v8.60M310.2 320.5h8.60M314.5 316.2v8.60M299.2 320.5h8.60M303.5 316.2v8.60M305.2 321.5h8.60M309.5 317.2v8.60M306.2 321.5h8.60M310.5 317.2v8.60M308.2 321.5h8.60M312.5 317.2v8.60M314.2 322.5h8.60M318.5 318.2v8.60M265.2 322.5h8.60M269.5 318.2v8.60M300.2 322.5h8.60M304.5 318.2v8.60M299.2 322.5h8.60M303.5 318.2v8.60M295.2 323.5h8.60M299.5 319.2v8.60M305.2 323.5h8.60M309.5 319.2v8.60M302.2 323.5h8.60M306.5 319.2v8.60M306.2 324.5h8.60M310.5 320.2v8.60M295.2 324.5h8.60M299.5 320.2v8.60M304.2 324.5h8.60M308.5 320.2v8.60M310.2 325.5h8.60M314.5 321.2v8.60M306.2 325.5h8.60M310.5 321.2v8.60M310.2 325.5h8.60M314.5 321.2v8.60M290.2 325.5h8.60M294.5 321.2v8.60M308.2 326.5h8.60M312.5 322.2v8.60M304.2 326.5h8.60M308.5 322.2v8.60M295.2 326.5h8.60M299.5 322.2v8.60M311.2 327.5h8.60M315.5 323.2v8.60M312.2 327.5h8.60M316.5 323.2v8.60M293.2 327.5h8.60M297.5 323.2v8.60M295.2 328.5h8.60M299.5 324.2v8.60M300.2 328.5h8.60M304.5 324.2v8.60M303.2 328.5h8.60M307.5 324.2v8.60M306.2 328.5h8.60M310.5 324.2v8.60M288.2 329.5h8.60M292.5 325.2v8.60M310.2 329.5h8.60M314.5 325.2v8.60M310.2 329.5h8.60M314.5 325.2v8.60M313.2 330.5h8.60M317.5 326.2v8.60M305.2 330.5h8.60M309.5 326.2v8.60M291.2 330.5h8.60M295.5 326.2v8.60M269.2 330.5h8.60M273.5 326.2v8.60M291.2 331.5h8.60M295.5 327.2v8.60M309.2 331.5h8.60M313.5 327.2v8.60M309.2 331.5h8.60M313.5 327.2v8.60M312.2 331.5h8.60M316.5 327.2v8.60M298.2 332.5h8.60M302.5 328.2v8.60M313.2 332.5h8.60M317.5 328.2v8.60M302.2 332.5h8.60M306.5 328.2v8.60M308.2 333.5h8.60M312.5 329.2v8.60M313.2 333.5h8.60M317.5 329.2v8.60M311.2 333.5h8.60M315.5 329.2v8.60M311.2 333.5h8.60M315.5 329.2v8.60M300.2 334.5h8.60M304.5 330.2v8.60M311.2 334.5h8.60M315.5 330.2v8.60M307.2 334.5h8.60M311.5 330.2v8.60M301.2 335.5h8.60M305.5 331.2v8.60M280.2 335.5h8.60M284.5 331.2v8.60M292.2 335.5h8.60M296.5 331.2v8.60M290.2 336.5h8.60M294.5 332.2v8.60M307.2 336.5h8.60M311.5 332.2v8.60M301.2 336.5h8.60M305.5 332.2v8.60M304.2 336.5h8.60M308.5 332.2v8.60M311.2 337.5h8.60M315.5 333.2v8.60M306.2 337.5h8.60M310.5 333.2v8.60M305.2 337.5h8.60M309.5 333.2v8.60M310.2 337.5h8.60M314.5 333.2v8.60M311.2 338.5h8.60M315.5 334.2v8.60M311.2 338.5h8.60M315.5 334.2v8.60M307.2 338.5h8.60M311.5 334.2v8.60M311.2 338.5h8.60M315.5 334.2v8.60M296.2 339.5h8.60M300.5 335.2v8.60M311.2 339.5h8.60M315.5 335.2v8.60M298.2 339.5h8.60M302.5 335.2v8.60M314.2 340.5h8.60M318.5 336.2v8.60M305.2 340.5h8.60M309.5 336.2v8.60M283.2 340.5h8.60M287.5 336.2v8.60M308.2 340.5h8.60M312.5 336.2v8.60M310.2 341.5h8.60M314.5 337.2v8.60M295.2 341.5h8.60M299.5 337.2v8.60M315.2 341.5h8.60M319.5 337.2v8.60M302.2 341.5h8.60M306.5 337.2v8.60M311.2 342.5h8.60M315.5 338.2v8.60M308.2 342.5h8.60M312.5 338.2v8.60M313.2 342.5h8.60M317.5 338.2v8.60M309.2 342.5h8.60M313.5 338.2v8.60M296.2 343.5h8.60M300.5 339.2v8.60M314.2 343.5h8.60M318.5 339.2v8.60M306.2 343.5h8.60M310.5 339.2v8.60M297.2 343.5h8.60M301.5 339.2v8.60M303.2 344.5h8.60M307.5 340.2v8.60M311.2 344.5h8.60M315.5 340.2v8.60M306.2 344.5h8.60M310.5 340.2v8.60M317.2 344.5h8.60M321.5 340.2v8.60M302.2 345.5h8.60M306.5 341.2v8.60M302.2 345.5h8.60M306.5 341.2v8.60M297.2 345.5h8.60M301.5 341.2v8.60M311.2 345.5h8.60M315.5 341.2v8.60M303.2 346.5h8.60M307.5 342.2v8.60M302.2 346.5h8.60M306.5 342.2v8.60M302.2 346.5h8.60M306.5 342.2v8.60M308.2 346.5h8.60M312.5 342.2v8.60M310.2 347.5h8.60M314.5 343.2v8.60M306.2 347.5h8.60M310.5 343.2v8.60M300.2 347.5h8.60M304.5 343.2v8.60M285.2 347.5h8.60M289.5 343.2v8.60M312.2 348.5h8.60M316.5 344.2v8.60M309.2 348.5h8.60M313.5 344.2v8.60M309.2 348.5h8.60M313.5 344.2v8.60M306.2 348.5h8.60M310.5 344.2v8.60M301.2 349.5h8.60M305.5 345.2v8.60M310.2 349.5h8.60M314.5 345.2v8.60M311.2 349.5h8.60M315.5 345.2v8.60M315.2 349.5h8.60M319.5 345.2v8.60M301.2 350.5h8.60M305.5 346.2v8.60M314.2 350.5h8.60M318.5 346.2v8.60M308.2 350.5h8.60M312.5 346.2v8.60M302.2 350.5h8.60M306.5 346.2v8.60M300.2 351.5h8.60M304.5 347.2v8.60M309.2 351.5h8.60M313.5 347.2v8.60M309.2 351.5h8.60M313.5 347.2v8.60M309.2 351.5h8.60M313.5 347.2v8.60M283.2 352.5h8.60M287.5 348.2v8.60M306.2 352.5h8.60M310.5 348.2v8.60M311.2 352.5h8.60M315.5 348.2v8.60M304.2 352.5h8.60M308.5 348.2v8.60M310.2 353.5h8.60M314.5 349.2v8.60M300.2 353.5h8.60M304.5 349.2v8.60M311.2 353.5h8.60M315.5 349.2v8.60M310.2 353.5h8.60M314.5 349.2v8.60M292.2 353.5h8.60M296.5 349.2v8.60M305.2 354.5h8.60M309.5 350.2v8.60M310.2 354.5h8.60M314.5 350.2v8.60M313.2 354.5h8.60M317.5 350.2v8.60M295.2 354.5h8.60M299.5 350.2v8.60M313.2 355.5h8.60M317.5 351.2v8.60M311.2 355.5h8.60M315.5 351.2v8.60M301.2 355.5h8.60M305.5 351.2v8.60M297.2 355.5h8.60M301.5 351.2v8.60M288.2 356.5h8.60M292.5 352.2v8.60M313.2 356.5h8.60M317.5 352.2v8.60M303.2 356.5h8.60M307.5 352.2v8.60M304.2 356.5h8.60M308.5 352.2v8.60M306.2 357.5h8.60M310.5 353.2v8.60M307.2 357.5h8.60M311.5 353.2v8.60M312.2 357.5h8.60M316.5 353.2v8.60M294.2 357.5h8.60M298.5 353.2v8.60M312.2 358.5h8.60M316.5 354.2v8.60M303.2 358.5h8.60M307.5 354.2v8.60M298.2 358.5h8.60M302.5 354.2v8.60M295.2 358.5h8.60M299.5 354.2v8.60M291.2 359.5h8.60M295.5 355.2v8.60M305.2 359.5h8.60M309.5 355.2v8.60M261.2 359.5h8.60M265.5 355.2v8.60M305.2 359.5h8.60M309.5 355.2v8.60M292.2 359.5h8.60M296.5 355.2v8.60M307.2 360.5h8.60M311.5 356.2v8.60M306.2 360.5h8.60M310.5 356.2v8.60M310.2 360.5h8.60M314.5 356.2v8.60M306.2 360.5h8.60M310.5 356.2v8.60M309.2 361.5h8.60M313.5 357.2v8.60M312.2 361.5h8.60M316.5 357.2v8.60M313.2 361.5h8.60M317.5 357.2v8.60M303.2 361.5h8.60M307.5 357.2v8.60M305.2 362.5h8.60M309.5 358.2v8.60M304.2 362.5h8.60M308.5 358.2v8.60M312.2 362.5h8.60M316.5 358.2v8.60M310.2 362.5h8.60M314.5 358.2v8.60M309.2 363.5h8.60M313.5 359.2v8.60M294.2 363.5h8.60M298.5 359.2v8.60M295.2 363.5h8.60M299.5 359.2v8.60M304.2 363.5h8.60M308.5 359.2v8.60M319.2 364.5h8.60M323.5 360.2v8.60M302.2 364.5h8.60M306.5 360.2v8.60M258.2 364.5h8.60M262.5 360.2v8.60M304.2 364.5h8.60M308.5 360.2v8.60M314.2 364.5h8.60M318.5 360.2v8.60M312.2 365.5h8.60M316.5 361.2v8.60M312.2 365.5h8.60M316.5 361.2v8.60M309.2 365.5h8.60M313.5 361.2v8.60M313.2 365.5h8.60M317.5 361.2v8.60M289.2 366.5h8.60M293.5 362.2v8.60M313.2 366.5h8.60M317.5 362.2v8.60M275.2 366.5h8.60M279.5 362.2v8.60M309.2 366.5h8.60M313.5 362.2v8.60M303.2 367.5h8.60M307.5 363.2v8.60M289.2 367.5h8.60M293.5 363.2v8.60M291.2 367.5h8.60M295.5 363.2v8.60M312.2 367.5h8.60M316.5 363.2v8.60M280.2 367.5h8.60M284.5 363.2v8.60M298.2 368.5h8.60M302.5 364.2v8.60M312.2 368.5h8.60M316.5 364.2v8.60M303.2 368.5h8.60M307.5 364.2v8.60M301.2 368.5h8.60M305.5 364.2v8.60M309.2 369.5h8.60M313.5 365.2v8.60M316.2 369.5h8.60M320.5 365.2v8.60M294.2 369.5h8.60M298.5 365.2v8.60M296.2 369.5h8.60M300.5 365.2v8.60M309.2 370.5h8.60M313.5 366.2v8.60M289.2 370.5h8.60M293.5 366.2v8.60M282.2 370.5h8.60M286.5 366.2v8.60M310.2 370.5h8.60M314.5 366.2v8.60M304.2 370.5h8.60M308.5 366.2v8.60M301.2 371.5h8.60M305.5 367.2v8.60M291.2 371.5h8.60M295.5 367.2v8.60M312.2 371.5h8.60M316.5 367.2v8.60M296.2 371.5h8.60M300.5 367.2v8.60M310.2 372.5h8.60M314.5 368.2v8.60M303.2 372.5h8.60M307.5 368.2v8.60M279.2 372.5h8.60M283.5 368.2v8.60M301.2 372.5h8.60M305.5 368.2v8.60M293.2 372.5h8.60M297.5 368.2v8.60M302.2 373.5h8.60M306.5 369.2v8.60M295.2 373.5h8.60M299.5 369.2v8.60M289.2 373.5h8.60M293.5 369.2v8.60M304.2 373.5h8.60M308.5 369.2v8.60M311.2 374.5h8.60M315.5 370.2v8.60M306.2 374.5h8.60M310.5 370.2v8.60M260.2 374.5h8.60M264.5 370.2v8.60M301.2 374.5h8.60M305.5 370.2v8.60M300.2 374.5h8.60M304.5 370.2v8.60M315.2 375.5h8.60M319.5 371.2v8.60M255.2 375.5h8.60M259.5 371.2v8.60M303.2 375.5h8.60M307.5 371.2v8.60M312.2 375.5h8.60M316.5 371.2v8.60M294.2 376.5h8.60M298.5 372.2v8.60M301.2 376.5h8.60M305.5 372.2v8.60M312.2 376.5h8.60M316.5 372.2v8.60M319.2 376.5h8.60M323.5 372.2v8.60M315.2 376.5h8.60M319.5 372.2v8.60M292.2 377.5h8.60M296.5 373.2v8.60M298.2 377.5h8.60M302.5 373.2v8.60M291.2 377.5h8.60M295.5 373.2v8.60M296.2 378.5h8.60M300.5 374.2v8.60M306.2 378.5h8.60M310.5 374.2v8.60M292.2 378.5h8.60M296.5 374.2v8.60M292.2 378.5h8.60M296.5 374.2v8.60M278.2 378.5h8.60M282.5 374.2v8.60M302.2 379.5h8.60M306.5 375.2v8.60M289.2 379.5h8.60M293.5 375.2v8.60M304.2 379.5h8.60M308.5 375.2v8.60M297.2 379.5h8.60M301.5 375.2v8.60M304.2 380.5h8.60M308.5 376.2v8.60M295.2 380.5h8.60M299.5 376.2v8.60M314.2 380.5h8.60M318.5 376.2v8.60M315.2 380.5h8.60M319.5 376.2v8.60M308.2 380.5h8.60M312.5 376.2v8.60M318.2 381.5h8.60M322.5 377.2v8.60M293.2 381.5h8.60M297.5 377.2v8.60M310.2 381.5h8.60M314.5 377.2v8.60M289.2 381.5h8.60M293.5 377.2v8.60M314.2 381.5h8.60M318.5 377.2v8.60M292.2 382.5h8.60M296.5 378.2v8.60M304.2 382.5h8.60M308.5 378.2v8.60M296.2 382.5h8.60M300.5 378.2v8.60M311.2 382.5h8.60M315.5 378.2v8.60M292.2 383.5h8.60M296.5 379.2v8.60M282.2 383.5h8.60M286.5 379.2v8.60M304.2 383.5h8.60M308.5 379.2v8.60M309.2 383.5h8.60M313.5 379.2v8.60M300.2 383.5h8.60M304.5 379.2v8.60M297.2 384.5h8.60M301.5 380.2v8.60M298.2 384.5h8.60M302.5 380.2v8.60M286.2 384.5h8.60M290.5 380.2v8.60M286.2 384.5h8.60M290.5 380.2v8.60M307.2 385.5h8.60M311.5 381.2v8.60M305.2 385.5h8.60M309.5 381.2v8.60M292.2 385.5h8.60M296.5 381.2v8.60M286.2 385.5h8.60M290.5 381.2v8.60M307.2 385.5h8.60M311.5 381.2v8.60M291.2 386.5h8.60M295.5 382.2v8.60M299.2 386.5h8.60M303.5 382.2v8.60M299.2 386.5h8.60M303.5 382.2v8.60M315.2 386.5h8.60M319.5 382.2v8.60M281.2 386.5h8.60M285.5 382.2v8.60M284.2 387.5h8.60M288.5 383.2v8.60M305.2 387.5h8.60M309.5 383.2v8.60M293.2 387.5h8.60M297.5 383.2v8.60M307.2 387.5h8.60M311.5 383.2v8.60M315.2 388.5h8.60M319.5 384.2v8.60M288.2 388.5h8.60M292.5 384.2v8.60M306.2 388.5h8.60M310.5 384.2v8.60M285.2 388.5h8.60M289.5 384.2v8.60M299.2 388.5h8.60M303.5 384.2v8.60M302.2 389.5h8.60M306.5 385.2v8.60M309.2 389.5h8.60M313.5 385.2v8.60M284.2 389.5h8.60M288.5 385.2v8.60M282.2 389.5h8.60M286.5 385.2v8.60M314.2 390.5h8.60M318.5 386.2v8.60M302.2 390.5h8.60M306.5 386.2v8.60M316.2 390.5h8.60M320.5 386.2v8.60M302.2 390.5h8.60M306.5 386.2v8.60M282.2 390.5h8.60M286.5 386.2v8.60M311.2 391.5h8.60M315.5 387.2v8.60M322.2 391.5h8.60M326.5 387.2v8.60M309.2 391.5h8.60M313.5 387.2v8.60M291.2 391.5h8.60M295.5 387.2v8.60M297.2 391.5h8.60M301.5 387.2v8.60M316.2 392.5h8.60M320.5 388.2v8.60M305.2 392.5h8.60M309.5 388.2v8.60M298.2 392.5h8.60M302.5 388.2v8.60M301.2 392.5h8.60M305.5 388.2v8.60M315.2 393.5h8.60M319.5 389.2v8.60M290.2 393.5h8.60M294.5 389.2v8.60M317.2 393.5h8.60M321.5 389.2v8.60M282.2 393.5h8.60M286.5 389.2v8.60M300.2 393.5h8.60M304.5 389.2v8.60M300.2 394.5h8.60M304.5 390.2v8.60M288.2 394.5h8.60M292.5 390.2v8.60M305.2 394.5h8.60M309.5 390.2v8.60M284.2 394.5h8.60M288.5 390.2v8.60M307.2 400.5h8.60M311.5 396.2v8.60M314.2 395.5h8.60M318.5 391.2v8.60M312.2 413.5h8.60M316.5 409.2v8.60M310.2 408.5h8.60M314.5 404.2v8.60M291.2 393.5h8.60M295.5 389.2v8.60M322.2 396.5h8.60M326.5 392.2v8.60M317.2 397.5h8.60M321.5 393.2v8.60M305.2 390.5h8.60M309.5 386.2v8.60M292.2 400.5h8.60M296.5 396.2v8.60M323.2 394.5h8.60M327.5 390.2v8.60M322.2 390.5h8.60M326.5 386.2v8.60M306.2 403.5h8.60M310.5 399.2v8.60M318.2 392.5h8.60M322.5 388.2v8.60M310.2 401.5h8.60M314.5 397.2v8.60M317.2 409.5h8.60M321.5 405.2v8.60M314.2 415.5h8.60M318.5 411.2v8.60M323.2 398.5h8.60M327.5 394.2v8.60M321.2 395.5h8.60M325.5 391.2v8.60M319.2 408.5h8.60M323.5 404.2v8.60M323.2 402.5h8.60M327.5 398.2v8.60M327.2 392.5h8.60M331.5 388.2v8.60M313.2 411.5h8.60M317.5 407.2v8.60M328.2 389.5h8.60M332.5 385.2v8.60M319.2 413.5h8.60M323.5 409.2v8.60M312.2 419.5h8.60M316.5 415.2v8.60M309.2 395.5h8.60M313.5 391.2v8.60M298.2 392.5h8.60M302.5 388.2v8.60M317.2 411.5h8.60M321.5 407.2v8.60M310.2 397.5h8.60M314.5 393.2v8.60M320.2 405.5h8.60M324.5 401.2v8.60M297.2 397.5h8.60M301.5 393.2v8.60M306.2 395.5h8.60M310.5 391.2v8.60M315.2 392.5h8.60M319.5 388.2v8.60M319.2 417.5h8.60M323.5 413.2v8.60M295.2 389.5h8.60M299.5 385.2v8.60M324.2 415.5h8.60M328.5 411.2v8.60M312.2 396.5h8.60M316.5 392.2v8.60M319.2 394.5h8.60M323.5 390.2v8.60M318.2 414.5h8.60M322.5 410.2v8.60M297.2 405.5h8.60M301.5 401.2v8.60M317.2 411.5h8.60M321.5 407.2v8.60M305.2 389.5h8.60M309.5 385.2v8.60M307.2 406.5h8.60M311.5 402.2v8.60M318.2 409.5h8.60M322.5 405.2v8.60M324.2 403.5h8.60M328.5 399.2v8.60M313.2 414.5h8.60M317.5 410.2v8.60M319.2 391.5h8.60M323.5 387.2v8.60M309.2 406.5h8.60M313.5 402.2v8.60M323.2 397.5h8.60M327.5 393.2v8.60M294.2 392.5h8.60M298.5 388.2v8.60M306.2 416.5h8.60M310.5 412.2v8.60M288.2 393.5h8.60M292.5 389.2v8.60M319.2 398.5h8.60M323.5 394.2v8.60M296.2 393.5h8.60M300.5 389.2v8.60M304.2 399.5h8.60M308.5 395.2v8.60M312.2 401.5h8.60M316.5 397.2v8.60M323.2 394.5h8.60M327.5 390.2v8.60M315.2 394.5h8.60M319.5 390.2v8.60M325.2 389.5h8.60M329.5 385.2v8.60M318.2 392.5h8.60M322.5 388.2v8.60M315.2 421.5h8.60M319.5 417.2v8.60M301.2 405.5h8.60M305.5 401.2v8.60M319.2 414.5h8.60M323.5 410.2v8.60M299.2 405.5h8.60M303.5 401.2v8.60M316.2 396.5h8.60M320.5 392.2v8.60M321.2 393.5h8.60M325.5 389.2v8.60M305.2 401.5h8.60M309.5 397.2v8.60M319.2 411.5h8.60M323.5 407.2v8.60M307.2 393.5h8.60M311.5 389.2v8.60M318.2 404.5h8.60M322.5 400.2v8.60M318.2 397.5h8.60M322.5 393.2v8.60M300.2 390.5h8.60M304.5 386.2v8.60M319.2 390.5h8.60M323.5 386.2v8.60M320.2 406.5h8.60M324.5 402.2v8.60M310.2 403.5h8.60M314.5 399.2v8.60M312.2 399.5h8.60M316.5 395.2v8.60M323.2 391.5h8.60M327.5 387.2v8.60M303.2 391.5h8.60M307.5 387.2v8.60M323.2 406.5h8.60M327.5 402.2v8.60M321.2 390.5h8.60M325.5 386.2v8.60M325.2 393.5h8.60M329.5 389.2v8.60M328.2 390.5h8.60M332.5 386.2v8.60M303.2 394.5h8.60M307.5 390.2v8.60M312.2 410.5h8.60M316.5 406.2v8.60M305.2 392.5h8.60M309.5 388.2v8.60M318.2 415.5h8.60M322.5 411.2v8.60M316.2 399.5h8.60M320.5 395.2v8.60M315.2 391.5h8.60M319.5 387.2v8.60M296.2 405.5h8.60M300.5 401.2v8.60M326.2 392.5h8.60M330.5 388.2v8.60M306.2 399.5h8.60M310.5 395.2v8.60M312.2 402.5h8.60M316.5 398.2v8.60M327.2 389.5h8.60M331.5 385.2v8.60M312.2 395.5h8.60M316.5 391.2v8.60M322.2 396.5h8.60M326.5 392.2v8.60M307.2 396.5h8.60M311.5 392.2v8.60M326.2 398.5h8.60M330.5 394.2v8.60M306.2 413.5h8.60M310.5 409.2v8.60M319.2 415.5h8.60M323.5 411.2v8.60M306.2 391.5h8.60M310.5 387.2v8.60M325.2 404.5h8.60M329.5 400.2v8.60M312.2 408.5h8.60M316.5 404.2v8.60M321.2 399.5h8.60M325.5 395.2v8.60M315.2 402.5h8.60M319.5 398.2v8.60M297.2 390.5h8.60M301.5 386.2v8.60M301.2 391.5h8.60M305.5 387.2v8.60M316.2 405.5h8.60M320.5 401.2v8.60M315.2 399.5h8.60M319.5 395.2v8.60M298.2 392.5h8.60M302.5 388.2v8.60M326.2 402.5h8.60M330.5 398.2v8.60M314.2 392.5h8.60M318.5 388.2v8.60M291.2 392.5h8.60M295.5 388.2v8.60M321.2 419.5h8.60M325.5 415.2v8.60M319.2 409.5h8.60M323.5 405.2v8.60M306.2 390.5h8.60M310.5 386.2v8.60M318.2 420.5h8.60M322.5 416.2v8.60M325.2 405.5h8.60M329.5 401.2v8.60M306.2 405.5h8.60M310.5 401.2v8.60M321.2 414.5h8.60M325.5 410.2v8.60M290.2 393.5h8.60M294.5 389.2v8.60M311.2 395.5h8.60M315.5 391.2v8.60M308.2 393.5h8.60M312.5 389.2v8.60M304.2 398.5h8.60M308.5 394.2v8.60M319.2 413.5h8.60M323.5 409.2v8.60M319.2 417.5h8.60M323.5 413.2v8.60M292.2 392.5h8.60M296.5 388.2v8.60M315.2 394.5h8.60M319.5 390.2v8.60M322.2 412.5h8.60M326.5 408.2v8.60M321.2 414.5h8.60M325.5 410.2v8.60M310.2 399.5h8.60M314.5 395.2v8.60M285.2 391.5h8.60M289.5 387.2v8.60M318.2 408.5h8.60M322.5 404.2v8.60M296.2 394.5h8.60M300.5 390.2v8.60M310.2 389.5h8.60M314.5 385.2v8.60M324.2 393.5h8.60M328.5 389.2v8.60M186.2 383.5h8.60M190.5 379.2v8.60M204.2 397.5h8.60M208.5 393.2v8.60M204.2 398.5h8.60M208.5 394.2v8.60" stroke="#00bfbf" stroke-width="0.8" fill="none"/>
<path d="M213.2 281.1l8.60 8.60M213.2 289.7l8.60 -8.60M186.2 379.3l8.60 8.60M186.2 387.9l8.60 -8.60M204.1 393.1l8.60 8.60M204.1 401.7l8.60 -8.60M204.6 393.6l8.60 8.60M204.6 402.2l8.60 -8.60M180.1 384.4l8.60 8.60M180.1 393.0l8.60 -8.60M201.0 385.1l8.60 8.60M201.0 393.7l8.60 -8.60M184.7 384.7l8.60 8.60M184.7 393.3l8.60 -8.60M191.7 384.8l8.60 8.60M191.7 393.4l8.60 -8.60M185.6 385.3l8.60 8.60M185.6 393.9l8.60 -8.60M178.3 384.4l8.60 8.60M178.3 393.0l8.60 -8.60M194.5 385.2l8.60 8.60M194.5 393.8l8.60 -8.60M207.2 384.8l8.60 8.60M207.2 393.4l8.60 -8.60M201.1 385.0l8.60 8.60M201.1 393.6l8.60 -8.60M178.8 384.1l8.60 8.60M178.8 392.7l8.60 -8.60M192.1 385.5l8.60 8.60M192.1 394.1l8.60 -8.60M204.2 384.3l8.60 8.60M204.2 392.9l8.60 -8.60M199.3 384.3l8.60 8.60M199.3 392.9l8.60 -8.60M182.4 385.8l8.60 8.60M182.4 394.4l8.60 -8.60M207.6 385.3l8.60 8.60M207.6 393.9l8.60 -8.60M198.4 384.5l8.60 8.60M198.4 393.1l8.60 -8.60M202.8 385.4l8.60 8.60M202.8 394.0l8.60 -8.60M205.8 385.1l8.60 8.60M205.8 393.7l8.60 -8.60M187.8 384.3l8.60 8.60M187.8 392.9l8.60 -8.60M201.7 385.6l8.60 8.60M201.7 394.2l8.60 -8.60M179.7 384.7l8.60 8.60M179.7 393.3l8.60 -8.60M193.3 385.3l8.60 8.60M193.3 393.9l8.60 -8.60M191.4 384.4l8.60 8.60M191.4 393.0l8.60 -8.60M194.4 385.8l8.60 8.60M194.4 394.4l8.60 -8.60M199.8 385.2l8.60 8.60M199.8 393.8l8.60 -8.60M194.0 385.5l8.60 8.60M194.0 394.1l8.60 -8.60M198.8 384.2l8.60 8.60M198.8 392.8l8.60 -8.60M190.5 385.5l8.60 8.60M190.5 394.1l8.60 -8.60M186.0 384.8l8.60 8.60M186.0 393.4l8.60 -8.60M207.4 385.6l8.60 8.60M207.4 394.2l8.60 -8.60M203.7 385.3l8.60 8.60M203.7 393.9l8.60 -8.60M208.8 386.4l8.60 8.60M208.8 395.0l8.60 -8.60M200.1 383.9l8.60 8.60M200.1 392.5l8.60 -8.60M201.3 384.9l8.60 8.60M201.3 393.5l8.60 -8.60" stroke="#0000ff" stroke-width="0.75" fill="none"/>
<g fill="#bf00bf" stroke="#000" stroke-width="0.85">
<circle cx="186.4" cy="389.2" r="4.17"/>
<circle cx="197.8" cy="390.2" r="4.17"/>
<circle cx="197.6" cy="389.6" r="4.17"/>
<circle cx="211.6" cy="388.6" r="4.17"/>
<circle cx="185.2" cy="389.0" r="4.17"/>
<circle cx="183.0" cy="389.2" r="4.17"/>
<circle cx="215.4" cy="389.7" r="4.17"/>
<circle cx="204.0" cy="389.4" r="4.17"/>
<circle cx="199.6" cy="388.5" r="4.17"/>
<circle cx="204.0" cy="389.3" r="4.17"/>
<circle cx="200.5" cy="389.9" r="4.17"/>
<circle cx="215.3" cy="389.2" r="4.17"/>
<circle cx="202.3" cy="388.5" r="4.17"/>
<circle cx="186.1" cy="388.3" r="4.17"/>
<circle cx="193.9" cy="390.6" r="4.17"/>
<circle cx="208.5" cy="390.3" r="4.17"/>
<circle cx="185.5" cy="389.9" r="4.17"/>
<circle cx="190.4" cy="388.9" r="4.17"/>
<circle cx="204.5" cy="389.1" r="4.17"/>
<circle cx="199.2" cy="389.1" r="4.17"/>
<circle cx="210.3" cy="388.3" r="4.17"/>
<circle cx="203.6" cy="389.9" r="4.17"/>
<circle cx="207.2" cy="388.2" r="4.17"/>
<circle cx="212.4" cy="389.2" r="4.17"/>
<circle cx="193.4" cy="389.0" r="4.17"/>
<circle cx="199.0" cy="389.2" r="4.17"/>
<circle cx="195.1" cy="389.7" r="4.17"/>
<circle cx="197.0" cy="389.8" r="4.17"/>
<circle cx="195.3" cy="388.5" r="4.17"/>
<circle cx="190.9" cy="389.5" r="4.17"/>
<circle cx="196.1" cy="389.4" r="4.17"/>
<circle cx="184.0" cy="389.1" r="4.17"/>
<circle cx="207.2" cy="388.8" r="4.17"/>
<circle cx="197.1" cy="389.1" r="4.17"/>
<circle cx="212.3" cy="389.6" r="4.17"/>
<circle cx="205.7" cy="389.3" r="4.17"/>
<circle cx="194.2" cy="389.4" r="4.17"/>
<circle cx="194.4" cy="388.2" r="4.17"/>
<circle cx="202.5" cy="389.3" r="4.17"/>
<circle cx="213.4" cy="388.7" r="4.17"/>
<circle cx="209.7" cy="389.3" r="4.17"/>
<circle cx="188.7" cy="390.2" r="4.17"/>
<circle cx="192.0" cy="389.2" r="4.17"/>
<circle cx="196.3" cy="388.8" r="4.17"/>
<circle cx="207.7" cy="388.7" r="4.17"/>
<circle cx="204.7" cy="389.4" r="4.17"/>
<circle cx="216.5" cy="388.9" r="4.17"/>
<circle cx="211.2" cy="389.9" r="4.17"/>
<circle cx="201.8" cy="389.1" r="4.17"/>
<circle cx="194.3" cy="389.4" r="4.17"/>
<circle cx="214.5" cy="390.1" r="4.17"/>
<circle cx="206.7" cy="388.9" r="4.17"/>
<circle cx="201.0" cy="389.8" r="4.17"/>
<circle cx="214.7" cy="389.3" r="4.17"/>
<circle cx="212.1" cy="389.3" r="4.17"/>
<circle cx="209.7" cy="389.4" r="4.17"/>
<circle cx="212.6" cy="389.2" r="4.17"/>
<circle cx="208.9" cy="389.5" r="4.17"/>
<circle cx="216.2" cy="387.9" r="4.17"/>
<circle cx="212.0" cy="389.7" r="4.17"/>
<circle cx="194.2" cy="389.6" r="4.17"/>
<circle cx="196.3" cy="389.6" r="4.17"/>
<circle cx="210.2" cy="389.0" r="4.17"/>
<circle cx="183.4" cy="389.1" r="4.17"/>
<circle cx="214.2" cy="390.0" r="4.17"/>
<circle cx="208.4" cy="389.0" r="4.17"/>
<circle cx="187.4" cy="390.3" r="4.17"/>
<circle cx="185.4" cy="388.9" r="4.17"/>
<circle cx="193.9" cy="389.3" r="4.17"/>
<circle cx="184.3" cy="389.9" r="4.17"/>
<circle cx="214.2" cy="389.6" r="4.17"/>
<circle cx="212.8" cy="389.6" r="4.17"/>
<circle cx="184.8" cy="389.0" r="4.17"/>
<circle cx="205.0" cy="388.6" r="4.17"/>
<circle cx="201.1" cy="389.3" r="4.17"/>
<circle cx="186.6" cy="389.7" r="4.17"/>
<circle cx="211.8" cy="389.5" r="4.17"/>
<circle cx="183.8" cy="389.1" r="4.17"/>
<circle cx="196.8" cy="389.0" r="4.17"/>
<circle cx="182.3" cy="389.2" r="4.17"/>
<circle cx="188.4" cy="389.0" r="4.17"/>
<circle cx="193.0" cy="388.4" r="4.17"/>
<circle cx="191.1" cy="389.8" r="4.17"/>
<circle cx="183.6" cy="389.4" r="4.17"/>
<circle cx="208.2" cy="390.0" r="4.17"/>
<circle cx="182.9" cy="389.5" r="4.17"/>
<circle cx="209.5" cy="389.1" r="4.17"/>
<circle cx="196.1" cy="388.3" r="4.17"/>
<circle cx="204.1" cy="389.0" r="4.17"/>
<circle cx="186.2" cy="388.5" r="4.17"/>
<circle cx="199.4" cy="388.8" r="4.17"/>
<circle cx="198.8" cy="388.3" r="4.17"/>
<circle cx="203.9" cy="389.2" r="4.17"/>
<circle cx="204.6" cy="390.1" r="4.17"/>
<circle cx="217.3" cy="389.3" r="4.17"/>
<circle cx="201.4" cy="389.7" r="4.17"/>
<circle cx="214.1" cy="389.0" r="4.17"/>
<circle cx="184.6" cy="389.5" r="4.17"/>
<circle cx="198.0" cy="389.0" r="4.17"/>
<circle cx="191.0" cy="389.6" r="4.17"/>
<circle cx="204.5" cy="389.4" r="4.17"/>
<circle cx="216.9" cy="389.3" r="4.17"/>
<circle cx="211.2" cy="389.2" r="4.17"/>
</g>
<path d="M100.00 387.50H381.82" stroke="#0000ff" stroke-width="1.3" stroke-dasharray="4.17 6.94 1.39 6.94" stroke-dashoffset="-0.5" fill="none"/>
<path d="M100.00 390.50H381.82" stroke="#0000ff" stroke-width="1.3" stroke-dasharray="4.17 6.94 1.39 6.94" stroke-dashoffset="-0.5" fill="none"/>
<path d="M100.00 389.45H381.82" stroke="#ff0000" stroke-width="1.39" stroke-dasharray="8.33 8.33" stroke-dashoffset="-0.6" fill="none"/>
</g>
<path d="M100.50 540.50v-6.20M138.50 540.50v-6.20M175.50 540.50v-6.20M213.50 540.50v-6.20M250.50 540.50v-6.20M288.50 540.50v-6.20M325.50 540.50v-6.20M363.50 540.50v-6.20M118.50 60.50v6.20M155.50 60.50v6.20M193.50 60.50v6.20M230.50 60.50v6.20M268.50 60.50v6.20M306.50 60.50v6.20M343.50 60.50v6.20M381.50 60.50v6.20M100.50 540.50h6.20M100.50 420.50h6.20M100.50 300.50h6.20M100.50 180.50h6.20M100.50 60.50h6.20M382.50 540.50h-6.20M382.50 420.50h-6.20M382.50 300.50h-6.20M382.50 180.50h-6.20M382.50 60.50h-6.20" stroke="#000" stroke-width="0.8" fill="none"/>
<rect x="100.50" y="60.50" width="282.00" height="480.00" fill="none" stroke="#000" stroke-width="1.39"/>
<g clip-path="url(#cr)">
<rect x="438.50" y="328.50" width="3.00" height="115.00" fill="#0000ff" stroke="#000" stroke-width="1.39"/>
<rect x="438.50" y="328.50" width="3.00" height="57.00" fill="#0000ff" stroke="#000" stroke-width="1.39"/>
<rect x="438.50" y="214.50" width="3.00" height="57.00" fill="#0000ff" stroke="#000" stroke-width="1.39"/>
<rect x="438.50" y="271.50" width="228.00" height="57.00" fill="#0000ff" stroke="#000" stroke-width="1.39"/>
<path d="M438.48 302.50H713.40" stroke="#000" stroke-width="1.39" stroke-dasharray="8.33 8.33" fill="none"/>
</g>
<path d="M438.50 540.50v-6.20M485.50 540.50v-6.20M532.50 540.50v-6.20M579.50 540.50v-6.20M626.50 540.50v-6.20M673.50 540.50v-6.20M720.50 540.50v-6.20M438.50 60.50v6.20M485.50 60.50v6.20M532.50 60.50v6.20M579.50 60.50v6.20M626.50 60.50v6.20M673.50 60.50v6.20M720.50 60.50v6.20M438.50 540.50h6.20M438.50 487.50h6.20M438.50 433.50h6.20M438.50 380.50h6.20M438.50 327.50h6.20M438.50 273.50h6.20M438.50 220.50h6.20M438.50 167.50h6.20M438.50 113.50h6.20M438.50 60.50h6.20M720.50 540.50h-6.20M720.50 487.50h-6.20M720.50 433.50h-6.20M720.50 380.50h-6.20M720.50 327.50h-6.20M720.50 273.50h-6.20M720.50 220.50h-6.20M720.50 167.50h-6.20M720.50 113.50h-6.20M720.50 60.50h-6.20" stroke="#000" stroke-width="0.8" fill="none"/>
<rect x="438.50" y="60.50" width="282.00" height="480.00" fill="none" stroke="#000" stroke-width="1.39"/>
<g font-family="'Liberation Sans', sans-serif" fill="#000">
<text x="83.62" y="559.80" font-size="17.60" textLength="33.40" lengthAdjust="spacingAndGlyphs">−20</text>
<text x="121.19" y="559.80" font-size="17.60" textLength="33.50" lengthAdjust="spacingAndGlyphs">−18</text>
<text x="158.76" y="559.80" font-size="17.60" textLength="33.50" lengthAdjust="spacingAndGlyphs">−16</text>
<text x="196.35" y="559.80" font-size="17.60" textLength="33.19" lengthAdjust="spacingAndGlyphs">−14</text>
<text x="233.91" y="559.80" font-size="17.60" textLength="33.71" lengthAdjust="spacingAndGlyphs">−12</text>
<text x="271.50" y="559.80" font-size="17.60" textLength="33.40" lengthAdjust="spacingAndGlyphs">−10</text>
<text x="314.13" y="559.80" font-size="17.60" textLength="23.35" lengthAdjust="spacingAndGlyphs">−8</text>
<text x="351.71" y="559.80" font-size="17.60" textLength="23.35" lengthAdjust="spacingAndGlyphs">−6</text>
<text x="107.17" y="49.60" font-size="17.60" textLength="20.04" lengthAdjust="spacingAndGlyphs">14</text>
<text x="144.73" y="49.60" font-size="17.60" textLength="20.35" lengthAdjust="spacingAndGlyphs">16</text>
<text x="182.30" y="49.60" font-size="17.60" textLength="20.35" lengthAdjust="spacingAndGlyphs">18</text>
<text x="220.36" y="49.60" font-size="17.60" textLength="19.75" lengthAdjust="spacingAndGlyphs">20</text>
<text x="257.93" y="49.60" font-size="17.60" textLength="20.04" lengthAdjust="spacingAndGlyphs">22</text>
<text x="295.53" y="49.60" font-size="17.60" textLength="19.56" lengthAdjust="spacingAndGlyphs">24</text>
<text x="333.09" y="49.60" font-size="17.60" textLength="19.85" lengthAdjust="spacingAndGlyphs">26</text>
<text x="370.21" y="49.60" font-size="17.60" textLength="19.85" lengthAdjust="spacingAndGlyphs">28</text>
<text x="86.09" y="544.90" font-size="17.60" textLength="9.85" lengthAdjust="spacingAndGlyphs">0</text>
<text x="86.08" y="424.90" font-size="17.60" textLength="9.95" lengthAdjust="spacingAndGlyphs">5</text>
<text x="75.27" y="304.90" font-size="17.60" textLength="19.80" lengthAdjust="spacingAndGlyphs">10</text>
<text x="75.73" y="64.90" font-size="17.60" textLength="19.32" lengthAdjust="spacingAndGlyphs">20</text>
<text x="118.11" y="28.80" font-size="21.10" textLength="63.84" lengthAdjust="spacingAndGlyphs">FWHM</text>
<text x="187.89" y="28.80" font-size="21.10" textLength="22.19" lengthAdjust="spacingAndGlyphs">vs</text>
<text x="216.60" y="28.80" font-size="21.10" textLength="119.41" lengthAdjust="spacingAndGlyphs">magnitudes</text>
<text x="95.76" y="583.30" font-size="17.60" textLength="89.41" lengthAdjust="spacingAndGlyphs">magnitude</text>
<text x="191.44" y="583.30" font-size="17.60" textLength="101.34" lengthAdjust="spacingAndGlyphs">(bottom:isnt</text>
<text x="299.30" y="583.30" font-size="17.60" textLength="5.56" lengthAdjust="spacingAndGlyphs">/</text>
<text x="309.71" y="583.30" font-size="17.60" textLength="78.71" lengthAdjust="spacingAndGlyphs">top:calib)</text>
<text x="63.90" y="347.74" font-size="17.60" textLength="52.27" lengthAdjust="spacingAndGlyphs" transform="rotate(-90 63.90 347.74)">FWHM</text>
<text x="63.90" y="291.73" font-size="17.60" textLength="39.85" lengthAdjust="spacingAndGlyphs" transform="rotate(-90 63.90 291.73)">(pix)</text>
<text x="433.48" y="559.80" font-size="17.60" textLength="9.73" lengthAdjust="spacingAndGlyphs">0</text>
<text x="475.36" y="559.80" font-size="17.60" textLength="19.75" lengthAdjust="spacingAndGlyphs">20</text>
<text x="522.87" y="559.80" font-size="17.60" textLength="19.19" lengthAdjust="spacingAndGlyphs">40</text>
<text x="569.30" y="559.80" font-size="17.60" textLength="19.75" lengthAdjust="spacingAndGlyphs">60</text>
<text x="616.46" y="559.80" font-size="17.60" textLength="19.56" lengthAdjust="spacingAndGlyphs">80</text>
<text x="657.77" y="559.80" font-size="17.60" textLength="30.26" lengthAdjust="spacingAndGlyphs">100</text>
<text x="704.74" y="559.80" font-size="17.60" textLength="30.26" lengthAdjust="spacingAndGlyphs">120</text>
<text x="407.29" y="544.80" font-size="17.60" textLength="24.66" lengthAdjust="spacingAndGlyphs">5.4</text>
<text x="407.28" y="491.47" font-size="17.60" textLength="24.94" lengthAdjust="spacingAndGlyphs">5.6</text>
<text x="407.28" y="438.13" font-size="17.60" textLength="24.94" lengthAdjust="spacingAndGlyphs">5.8</text>
<text x="407.10" y="384.80" font-size="17.60" textLength="25.03" lengthAdjust="spacingAndGlyphs">6.0</text>
<text x="407.09" y="331.47" font-size="17.60" textLength="25.32" lengthAdjust="spacingAndGlyphs">6.2</text>
<text x="407.11" y="278.13" font-size="17.60" textLength="24.84" lengthAdjust="spacingAndGlyphs">6.4</text>
<text x="407.10" y="224.80" font-size="17.60" textLength="25.13" lengthAdjust="spacingAndGlyphs">6.6</text>
<text x="407.10" y="171.47" font-size="17.60" textLength="25.13" lengthAdjust="spacingAndGlyphs">6.8</text>
<text x="407.10" y="118.13" font-size="17.60" textLength="25.03" lengthAdjust="spacingAndGlyphs">7.0</text>
<text x="407.09" y="64.80" font-size="17.60" textLength="25.32" lengthAdjust="spacingAndGlyphs">7.2</text>
<text x="480.46" y="52.80" font-size="21.10" textLength="102.76" lengthAdjust="spacingAndGlyphs">histogram</text>
<text x="588.67" y="52.80" font-size="21.10" textLength="21.51" lengthAdjust="spacingAndGlyphs">of</text>
<text x="615.04" y="52.80" font-size="21.10" textLength="64.63" lengthAdjust="spacingAndGlyphs">FWHM</text>
<text x="501.70" y="583.30" font-size="17.60" textLength="62.60" lengthAdjust="spacingAndGlyphs">number</text>
<text x="571.83" y="583.30" font-size="17.60" textLength="16.05" lengthAdjust="spacingAndGlyphs">of</text>
<text x="593.34" y="583.30" font-size="17.60" textLength="63.82" lengthAdjust="spacingAndGlyphs">sources</text>
<text x="396.20" y="452.85" font-size="17.60" textLength="52.38" lengthAdjust="spacingAndGlyphs" transform="rotate(-90 396.20 452.85)">FWHM</text>
<text x="396.20" y="394.18" font-size="17.60" textLength="16.36" lengthAdjust="spacingAndGlyphs" transform="rotate(-90 396.20 394.18)">of</text>
<text x="396.20" y="371.82" font-size="17.60" textLength="77.58" lengthAdjust="spacingAndGlyphs" transform="rotate(-90 396.20 371.82)">best-effort</text>
<text x="396.20" y="288.87" font-size="17.60" textLength="74.12" lengthAdjust="spacingAndGlyphs" transform="rotate(-90 396.20 288.87)">PSF-like</text>
<text x="396.20" y="209.85" font-size="17.60" textLength="62.60" lengthAdjust="spacingAndGlyphs" transform="rotate(-90 396.20 209.85)">sources</text>
</g>
<rect x="27.50" y="70.50" width="345.00" height="180.00" fill="#fff" stroke="#000" stroke-width="1.39"/>
<path d="M37.2 86.5h8.60M41.5 82.2v8.60M65.2 86.5h8.60M69.5 82.2v8.60" stroke="#00bfbf" stroke-width="0.8" fill="none"/>
<path d="M37.2 111.4l8.60 8.60M37.2 120.0l8.60 -8.60M65.3 111.4l8.60 8.60M65.3 120.0l8.60 -8.60" stroke="#0000ff" stroke-width="0.75" fill="none"/>
<circle cx="41.5" cy="144.5" r="4.17" fill="#bf00bf" stroke="#000" stroke-width="0.8"/>
<circle cx="69.6" cy="144.5" r="4.17" fill="#bf00bf" stroke="#000" stroke-width="0.8"/>
<path d="M41.50 173.38H69.60" stroke="#0000ff" stroke-width="1.39" stroke-dasharray="8.33 8.33" fill="none"/>
<path d="M41.50 202.24H69.60" stroke="#ff0000" stroke-width="1.39" stroke-dasharray="8.33 8.33" fill="none"/>
<path d="M41.50 231.10H69.60" stroke="#0000ff" stroke-width="1.39" stroke-dasharray="4.17 6.94 1.39 6.94" fill="none"/>
<g font-family="'Liberation Sans', sans-serif" fill="#000">
<text x="90.95" y="92.70" font-size="21.10" textLength="23.70" lengthAdjust="spacingAndGlyphs">all</text>
<text x="120.63" y="92.70" font-size="21.10" textLength="73.45" lengthAdjust="spacingAndGlyphs">sample</text>
<text x="91.34" y="121.50" font-size="21.10" textLength="72.74" lengthAdjust="spacingAndGlyphs">sample</text>
<text x="170.90" y="121.50" font-size="21.10" textLength="27.49" lengthAdjust="spacingAndGlyphs">for</text>
<text x="203.68" y="121.50" font-size="21.10" textLength="59.70" lengthAdjust="spacingAndGlyphs">rough</text>
<text x="269.46" y="121.50" font-size="21.10" textLength="63.89" lengthAdjust="spacingAndGlyphs">FWHM</text>
<text x="90.37" y="150.40" font-size="21.10" textLength="105.85" lengthAdjust="spacingAndGlyphs">best-effort</text>
<text x="202.86" y="150.40" font-size="21.10" textLength="77.43" lengthAdjust="spacingAndGlyphs">PSF-like</text>
<text x="286.73" y="150.40" font-size="21.10" textLength="73.55" lengthAdjust="spacingAndGlyphs">sample</text>
<text x="91.01" y="179.30" font-size="21.10" textLength="87.87" lengthAdjust="spacingAndGlyphs">resultant</text>
<text x="187.13" y="179.30" font-size="21.10" textLength="70.70" lengthAdjust="spacingAndGlyphs">FWHM:</text>
<text x="263.65" y="179.30" font-size="21.10" textLength="44.61" lengthAdjust="spacingAndGlyphs">6.29</text>
<text x="90.70" y="208.80" font-size="21.10" textLength="75.70" lengthAdjust="spacingAndGlyphs">median</text>
<text x="172.95" y="208.80" font-size="21.10" textLength="64.20" lengthAdjust="spacingAndGlyphs">FHWM</text>
<text x="242.83" y="208.80" font-size="21.10" textLength="18.04" lengthAdjust="spacingAndGlyphs">of</text>
<text x="268.44" y="208.80" font-size="21.10" textLength="96.69" lengthAdjust="spacingAndGlyphs">sequence</text>
<text x="91.20" y="237.30" font-size="21.10" textLength="59.11" lengthAdjust="spacingAndGlyphs">sigma</text>
<text x="157.75" y="237.30" font-size="21.10" textLength="58.83" lengthAdjust="spacingAndGlyphs">range</text>
</g>
</svg>
</body></html>
